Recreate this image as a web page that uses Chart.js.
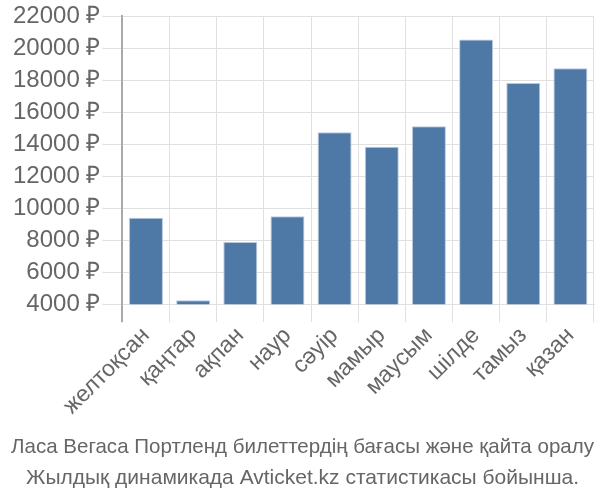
<!DOCTYPE html>
<html>
<head>
<meta charset="utf-8">
<script src="https://cdn.jsdelivr.net/npm/chart.js@4"></script>
<style>
  html, body { margin: 0; padding: 0; background: #fff; }
  #wrap { width: 600px; height: 500px; }
</style>
</head>
<body>
<div id="wrap"><canvas id="chart" width="600" height="500"></canvas></div>
<script>
// months (Kazakh) and average ticket prices in roubles
const months = ['желтоқсан', 'қаңтар', 'ақпан', 'наур', 'сәуір', 'мамыр', 'маусым', 'шілде', 'тамыз', 'қазан'];
const prices = [9400, 4250, 7890, 9500, 14760, 13850, 15130, 20550, 17840, 18750];
const titleLines = [
    'Ласа Вегаса Портленд билеттердің бағасы және қайта оралу',
    'Жылдық динамикада Avticket.kz статистикасы бойынша.'
];

Chart.defaults.font.family = '"Liberation Sans", Arial, sans-serif';
Chart.defaults.color = '#666';

const ctx = document.getElementById('chart').getContext('2d');
new Chart(ctx, {
    type: 'bar',
    data: {
        labels: months,
        datasets: [{
            data: prices,
            backgroundColor: '#4e79a7',
            borderColor: '#b9c9dd',
            borderWidth: 1,
            barPercentage: 0.72,
            categoryPercentage: 1
        }]
    },
    options: {
        responsive: false,
        animation: false,
        layout: { padding: { top: 2, right: 6, left: 11, bottom: 0 } },
        plugins: {
            legend: { display: false },
            tooltip: { enabled: false },
            title: {
                display: true,
                position: 'bottom',
                text: titleLines,
                color: '#666',
                font: { size: 21, weight: 'normal', lineHeight: 1.45 },
                padding: { top: 12, bottom: 7 }
            }
        },
        scales: {
            x: {
                grid: {
                    color: c => c.index === 0 ? '#aaa' : '#e0e0e0',
                    lineWidth: c => c.index === 0 ? 2 : 1,
                    tickLength: 18,
                    offset: true
                },
                border: { color: '#e0e0e0' },
                ticks: {
                    font: { size: 23 },
                    minRotation: 45,
                    maxRotation: 45,
                    padding: 0
                }
            },
            y: {
                min: 4000,
                max: 22000,
                grid: { color: '#e0e0e0', tickLength: 20 },
                border: { color: '#aaa', width: 2 },
                ticks: {
                    stepSize: 2000,
                    font: { size: 24 },
                    padding: 2,
                    callback: v => v + ' ₽'
                }
            }
        }
    }
});
</script>
</body>
</html>
